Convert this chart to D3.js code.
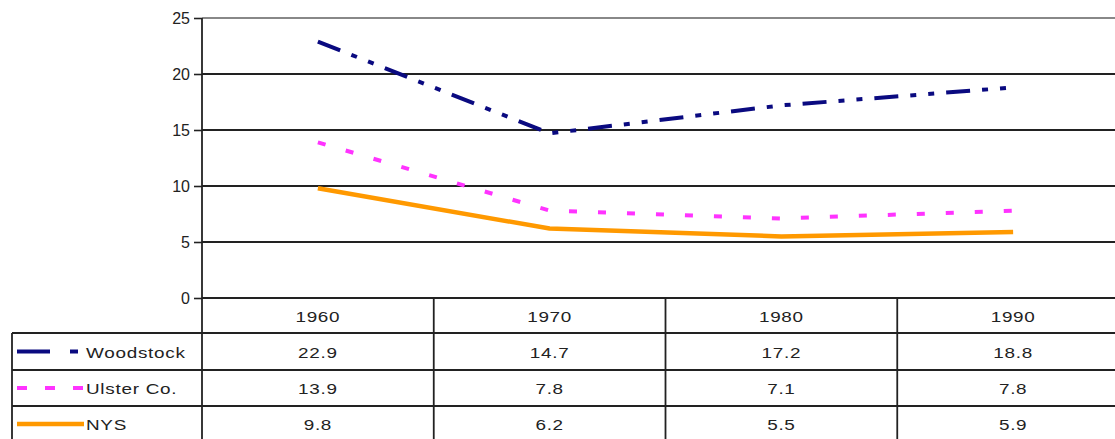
<!DOCTYPE html>
<html>
<head>
<meta charset="utf-8">
<script src="https://cdn.jsdelivr.net/npm/d3@7"></script>
<style>
  html, body { margin: 0; padding: 0; background: #fff; }
  svg { display: block; }
  text { font-family: "Liberation Sans", Arial, sans-serif; fill: #222; }
</style>
</head>
<body>
<svg id="chart" width="1115" height="439"></svg>
<script>
// Census years shown along the category axis and in the data table
const years = ["1960", "1970", "1980", "1990"];
const seriesNames = ["Woodstock", "Ulster Co.", "NYS"];
const woodstock = [22.9, 14.7, 17.2, 18.8];
const ulster = [13.9, 7.8, 7.1, 7.8];
const nys = [9.8, 6.2, 5.5, 5.9];
const yTicks = [0, 5, 10, 15, 20, 25];

const series = [
  { name: seriesNames[0], values: woodstock, color: "#0a0a80", width: 4, dash: "24,12,6,12,6,12", legendDash: "33,20,8,20" },
  { name: seriesNames[1], values: ulster, color: "#ff33ff", width: 4, dash: "8,21", legendDash: "10,18" },
  { name: seriesNames[2], values: nys, color: "#ff9900", width: 4.5, dash: null, legendDash: null }
];

const svg = d3.select("#chart");

const plotLeft = 202, plotTop = 18, plotBottom = 298;
const x = d3.scaleBand().domain(years).range([plotLeft, 1129]).paddingInner(0).paddingOuter(0);
const y = d3.scaleLinear().domain([0, 25]).range([plotBottom, plotTop]);
const cx = d => x(d) + x.bandwidth() / 2;

// Horizontal gridlines
svg.append("g").selectAll("line").data(yTicks).join("line")
  .attr("x1", plotLeft).attr("x2", 1115)
  .attr("y1", d => y(d)).attr("y2", d => y(d))
  .attr("stroke", d => d === 25 ? "#888" : "#222")
  .attr("stroke-width", 1.8);

// Value axis on the left
const yAxis = d3.axisLeft(y).tickValues(yTicks).tickSize(8).tickPadding(4);
const ya = svg.append("g").attr("transform", `translate(${plotLeft},0)`).call(yAxis);
ya.select(".domain").remove();
ya.selectAll(".tick line").attr("stroke", "#222").attr("stroke-width", 1.6);
ya.selectAll(".tick text").attr("font-size", 16).attr("fill", "#222")
  .attr("font-family", "'Liberation Sans', Arial, sans-serif");
svg.append("line").attr("x1", plotLeft).attr("x2", plotLeft)
  .attr("y1", plotTop).attr("y2", 439).attr("stroke", "#222").attr("stroke-width", 1.8);

// Series lines
const line = d3.line().x((d, i) => cx(years[i])).y(d => y(d));
svg.append("g").selectAll("path").data(series).join("path")
  .attr("d", d => line(d.values))
  .attr("fill", "none")
  .attr("stroke", d => d.color)
  .attr("stroke-width", d => d.width)
  .attr("stroke-dasharray", d => d.dash)
  .attr("stroke-linejoin", "round");

// Data table below the plot
const rowTops = [298, 333, 370, 406, 442];
const tbl = svg.append("g");
// horizontal rules
rowTops.slice(1).forEach(t => {
  tbl.append("line").attr("x1", 12).attr("x2", 1115).attr("y1", t).attr("y2", t)
    .attr("stroke", "#222").attr("stroke-width", 1.8);
});
// vertical rules between year columns
years.slice(1).forEach(c => {
  tbl.append("line").attr("x1", x(c)).attr("x2", x(c)).attr("y1", plotBottom).attr("y2", 439)
    .attr("stroke", "#222").attr("stroke-width", 1.8);
});
// legend column left border
tbl.append("line").attr("x1", 12).attr("x2", 12).attr("y1", rowTops[1]).attr("y2", 439)
  .attr("stroke", "#222").attr("stroke-width", 1.8);

function cellText(px, py, str, anchor) {
  const g = tbl.append("g").attr("transform", `translate(${px},${py}) scale(1.22,1)`);
  g.append("text").attr("text-anchor", anchor).attr("dominant-baseline", "central")
    .attr("font-size", 15.5).attr("letter-spacing", 0.6).text(str);
}

// year header
years.forEach(c => cellText(cx(c), (rowTops[0] + rowTops[1]) / 2 + 1, c, "middle"));

// one row per series
series.forEach((s, r) => {
  const mid = (rowTops[r + 1] + rowTops[r + 2]) / 2;
  tbl.append("line").attr("x1", 17).attr("x2", 84).attr("y1", mid).attr("y2", mid)
    .attr("stroke", s.color).attr("stroke-width", s.width)
    .attr("stroke-dasharray", s.legendDash);
  cellText(86, mid + 1, s.name, "start");
  s.values.forEach((v, i) => cellText(cx(years[i]), mid + 1, v.toFixed(1), "middle"));
});
</script>
</body>
</html>
